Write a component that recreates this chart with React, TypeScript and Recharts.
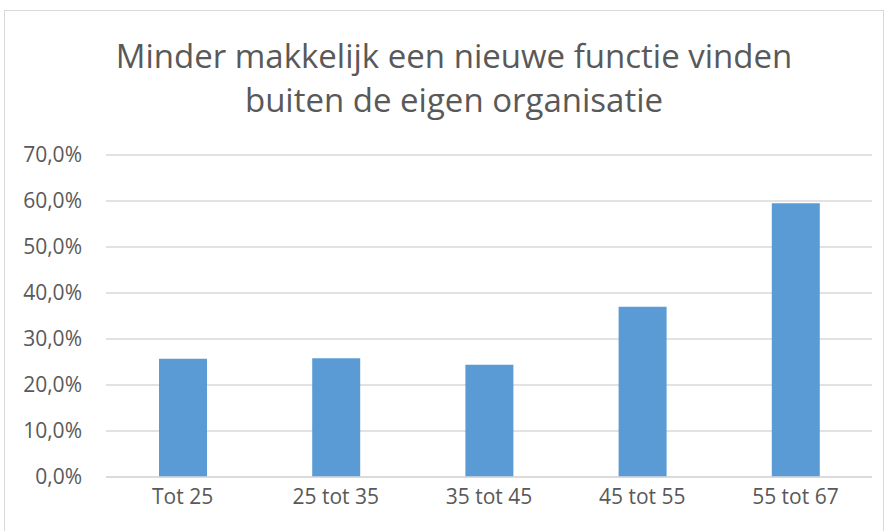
import React from "react";
import { BarChart, Bar, XAxis, YAxis, CartesianGrid } from "recharts";

const categories = ["Tot 25", "25 tot 35", "35 tot 45", "45 tot 55", "55 tot 67"];
const values = [25.7, 25.8, 24.4, 37.0, 59.5];
const yTicks = [0, 10, 20, 30, 40, 50, 60, 70];
const titleLines = ["Minder makkelijk een nieuwe functie vinden", "buiten de eigen organisatie"];

const data = categories.map((c, i) => ({ name: c, value: values[i] }));
const fmt = (v: number) => v.toFixed(1).replace(".", ",") + "%";

export default function App() {
  return (
    <div style={{ position: "absolute", left: 0, top: 0, width: 888, height: 531, background: "#fff", overflow: "hidden" }}>
      <div style={{ position: "absolute", left: 4, top: 10, width: 880, height: 540, border: "1px solid #d9d9d9", boxSizing: "border-box" }} />
      {titleLines.map((t, i) => (
        <div
          key={i}
          style={{
            position: "absolute",
            left: 14,
            width: 880,
            top: 36 + i * 44,
            textAlign: "center",
            fontFamily: "'Open Sans', sans-serif",
            fontSize: 33,
            lineHeight: "40px",
            color: "#595959",
          }}
        >
          {t}
        </div>
      ))}
      <div style={{ position: "absolute", left: 0, top: 0 }}>
        <BarChart width={888} height={531} data={data} margin={{ top: 155, right: 16, bottom: 0, left: 0 }}>
          <CartesianGrid vertical={false} stroke="#d9d9d9" strokeWidth={1.3} />
          <XAxis
            dataKey="name"
            height={54}
            axisLine={{ stroke: "#d9d9d9", strokeWidth: 1.3 }}
            tickLine={false}
            tickSize={0}
            tickMargin={12}
            tick={{ fill: "#595959", fontSize: 21, fontFamily: "'Open Sans', sans-serif" }}
          />
          <YAxis
            width={106}
            domain={[0, 70]}
            ticks={yTicks}
            interval={0}
            tickFormatter={fmt}
            axisLine={false}
            tickLine={false}
            tickSize={0}
            tickMargin={24}
            tick={{ fill: "#595959", fontSize: 21, fontFamily: "'Open Sans', sans-serif" }}
          />
          <Bar dataKey="value" fill="#5B9BD5" barSize={48} isAnimationActive={false} />
        </BarChart>
      </div>
    </div>
  );
}
